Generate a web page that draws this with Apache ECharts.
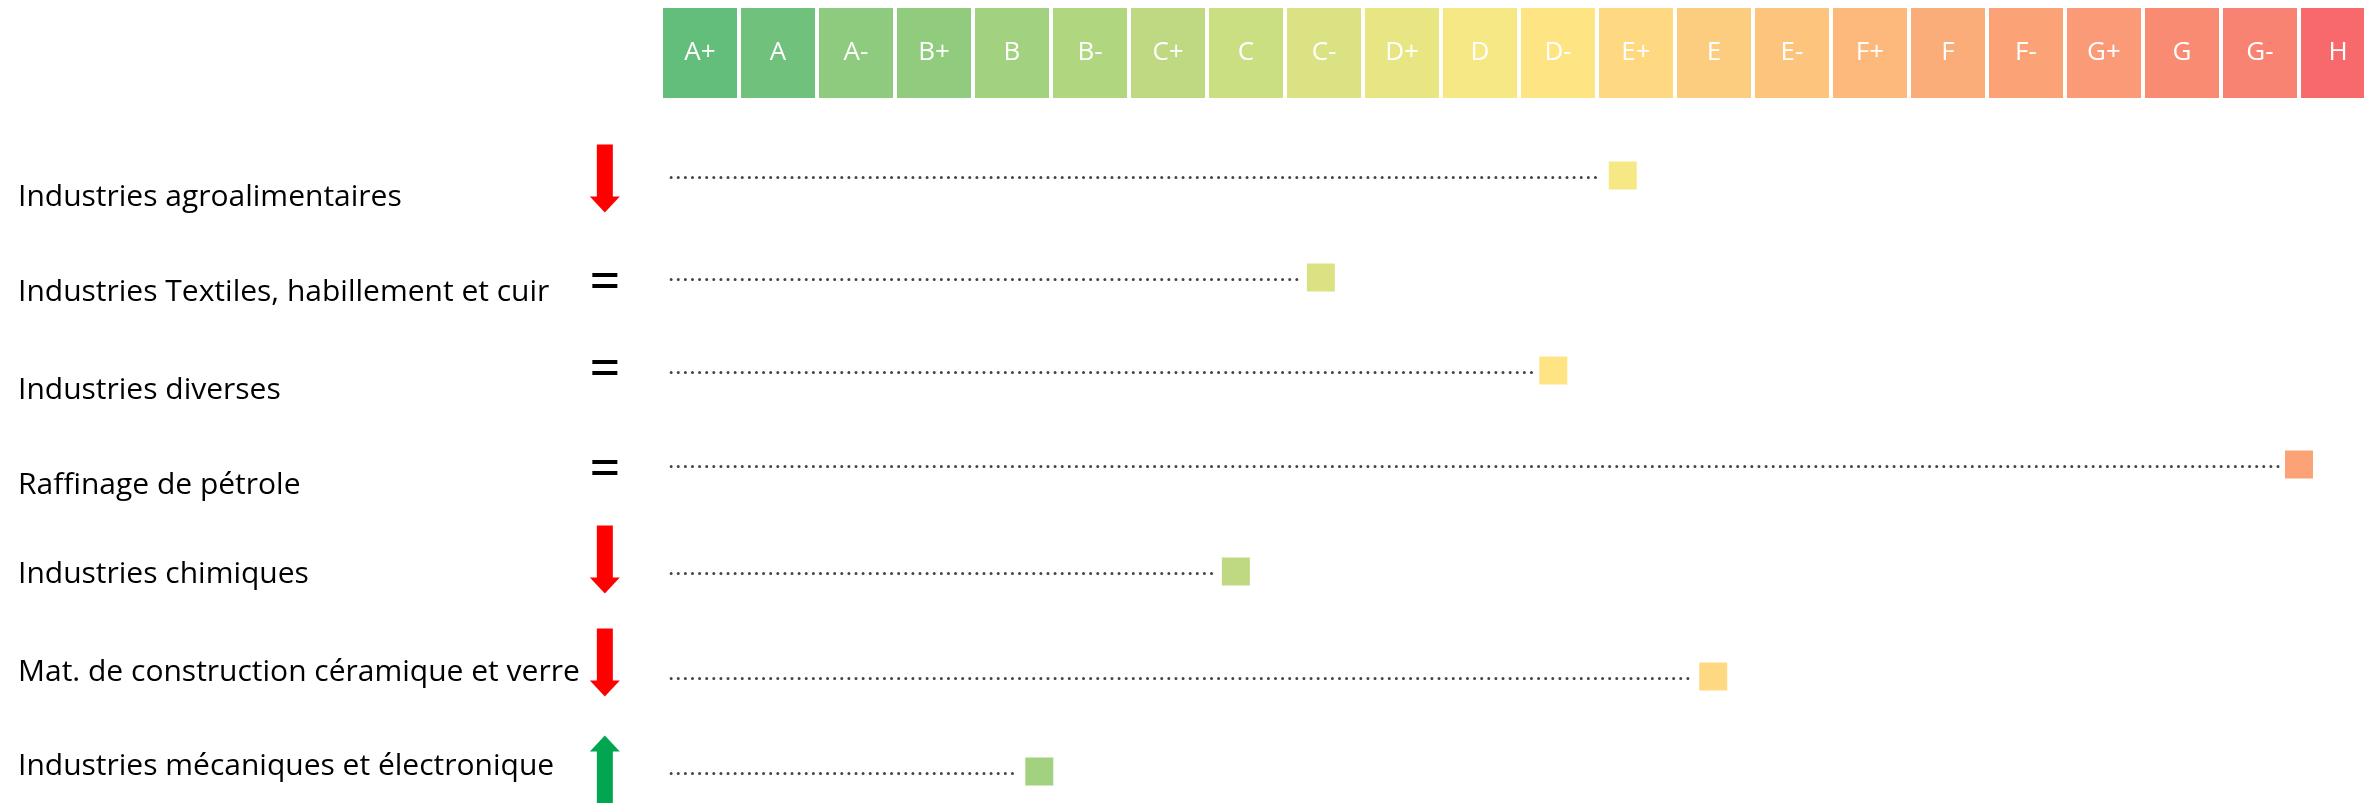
<!DOCTYPE html>
<html>
<head>
<meta charset="utf-8">
<script src="https://cdn.jsdelivr.net/npm/echarts@6/dist/echarts.min.js"></script>
<style>
  html, body { margin: 0; padding: 0; background: #fff; }
  #chart { width: 2364px; height: 803px; }
</style>
</head>
<body>
<div id="chart"></div>
<script>
// rating scale shown in the header
const grades = ['A+', 'A', 'A-', 'B+', 'B', 'B-', 'C+', 'C', 'C-', 'D+', 'D', 'D-',
  'E+', 'E', 'E-', 'F+', 'F', 'F-', 'G+', 'G', 'G-', 'H'];
const gradeColors = ['#63be7b', '#6fc17c', '#8ecb7e', '#90cb7e', '#a2d17f', '#b0d680',
  '#bed981', '#cadf82', '#dae283', '#e8e683', '#f6e884', '#fee483',
  '#fed981', '#fdcd7f', '#fdc47d', '#fcb97b', '#fbad79', '#fba377',
  '#fb9a76', '#fa8b73', '#f98372', '#f8696b'];

// industries, position on the scale (grade units, 0 = A+), rating colour, trend
const industries = [
  'Industries agroalimentaires',
  'Industries Textiles, habillement et cuir',
  'Industries diverses',
  'Raffinage de pétrole',
  'Industries chimiques',
  'Mat. de construction céramique et verre',
  'Industries mécaniques et électronique'
];
const positions = [11.83, 7.96, 10.94, 20.5, 6.87, 12.99, 4.35];
const ratings = ['D', 'C-', 'D-', 'F-', 'C+', 'E+', 'B'];
const trends = ['down', 'equal', 'equal', 'equal', 'down', 'down', 'up'];

// the slide is hand laid out: small vertical nudges (px) per row
const labelShift = [22, 18, 17, 13, 3, 2, -3];
const markNudge = [0, 3, -3, -8, 0, 6, 2];
const trendNudge = [3, 6, -6, -5, -12, -8, 0];
const lineStart = -0.37;
const trendX = -1.22;

const font = '"Open Sans", "Noto Sans", sans-serif';

const trendSymbols = {
  down: { symbol: 'path://M7,0 L23,0 L23,52 L30,52 L15,68 L0,52 L7,52 Z', size: [30, 68], color: '#ff0000' },
  up: { symbol: 'path://M15,0 L30,16 L23,16 L23,68 L7,68 L7,16 L0,16 Z', size: [30, 68], color: '#00a650' },
  equal: { symbol: 'path://M0,0 L25,0 L25,4 L0,4 Z M0,11 L25,11 L25,15 L0,15 Z', size: [25, 15], color: '#000000' }
};

// one rich style per row so each label can sit a little higher or lower
const rowRich = {};
labelShift.forEach((s, i) => {
  rowRich['r' + i] = {
    fontSize: 30,
    color: '#000',
    fontFamily: font,
    padding: s >= 0 ? [s * 2, 0, 0, 0] : [0, 0, -s * 2, 0]
  };
});

let myChart = echarts.init(document.getElementById('chart'));

myChart.setOption({
  animation: false,
  grid: [
    { left: 661, top: 6, width: 1716, height: 94, outerBoundsMode: 'none' },
    { left: 661, top: 126, width: 1716, height: 693, outerBoundsMode: 'none' }
  ],
  xAxis: [
    { gridIndex: 0, type: 'category', data: grades, show: false },
    { gridIndex: 1, type: 'value', min: -0.5, max: 21.5, show: false }
  ],
  yAxis: [
    { gridIndex: 0, type: 'value', min: 0, max: 1, show: false },
    {
      gridIndex: 1,
      type: 'category',
      inverse: true,
      data: industries,
      axisLine: { show: false },
      axisTick: { show: false },
      splitLine: { show: false },
      axisLabel: {
        align: 'left',
        margin: 643,
        fontSize: 30,
        color: '#000',
        fontFamily: font,
        formatter: function (value, index) {
          return '{r' + index + '|' + value + '}';
        },
        rich: rowRich
      }
    }
  ],
  series: [
    {
      type: 'bar',
      xAxisIndex: 0,
      yAxisIndex: 0,
      barCategoryGap: '0%',
      data: grades.map((g, i) => ({
        value: 1,
        itemStyle: { color: gradeColors[i] }
      })),
      itemStyle: { borderColor: '#fff', borderWidth: 2 },
      label: {
        show: true,
        position: 'inside',
        formatter: '{b}',
        color: '#fff',
        fontSize: 26,
        fontFamily: font
      },
      silent: true
    },
    {
      // dotted leader lines
      type: 'custom',
      xAxisIndex: 1,
      yAxisIndex: 1,
      clip: false,
      data: positions.map((v, i) => [v, i]),
      renderItem: function (params, api) {
        const row = api.value(1);
        const start = api.coord([lineStart, row]);
        const end = api.coord([api.value(0), row]);
        const dy = markNudge[params.dataIndex] + 2;
        return {
          type: 'line',
          shape: { x1: start[0], y1: start[1] + dy, x2: end[0] - 21, y2: end[1] + dy },
          style: { stroke: '#444', lineWidth: 3, lineDash: [0.01, 7.1], lineCap: 'round' }
        };
      },
      silent: true
    },
    {
      type: 'scatter',
      xAxisIndex: 1,
      yAxisIndex: 1,
      symbol: 'rect',
      symbolSize: 28,
      itemStyle: { opacity: 1 },
      data: positions.map((v, i) => ({
        value: [v, i],
        symbolOffset: [0, markNudge[i]],
        itemStyle: { color: gradeColors[grades.indexOf(ratings[i])] }
      })),
      silent: true
    },
    {
      type: 'scatter',
      xAxisIndex: 1,
      yAxisIndex: 1,
      clip: false,
      itemStyle: { opacity: 1 },
      data: trends.map((t, i) => ({
        value: [trendX, i],
        symbol: trendSymbols[t].symbol,
        symbolSize: trendSymbols[t].size,
        symbolOffset: [0, trendNudge[i]],
        itemStyle: { color: trendSymbols[t].color }
      })),
      silent: true
    }
  ]
});
myChart.resize();
</script>
</body>
</html>
